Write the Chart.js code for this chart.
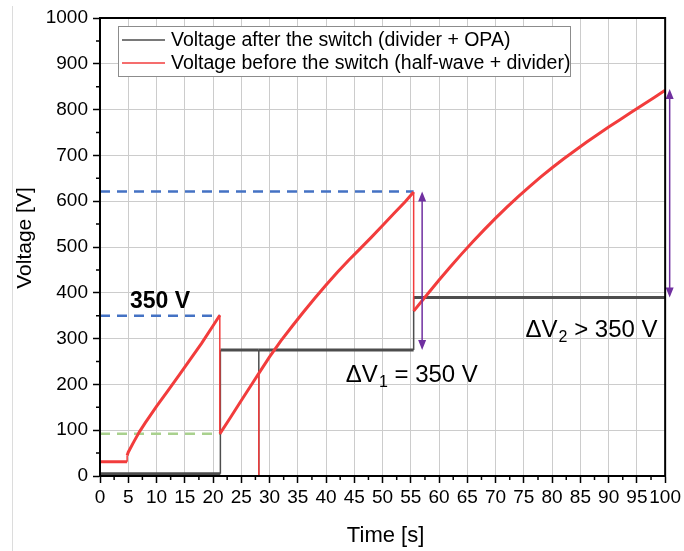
<!DOCTYPE html>
<html>
<head>
<meta charset="utf-8">
<script src="https://cdn.jsdelivr.net/npm/chart.js@4.4.1/dist/chart.umd.min.js"></script>
<style>
  html, body { margin: 0; padding: 0; background: #fff; }
  #wrap { width: 684px; height: 551px; position: relative; }
  #edge { position: absolute; left: 12px; top: 6px; bottom: 0; border-left: 1px solid #dcdcdc; }
</style>
</head>
<body>
<div id="wrap"><canvas id="chart" width="684" height="551"></canvas><div id="edge"></div></div>
<script>
// black trace: voltage after the switch
const afterTime = [0, 21.3, 21.3, 28.1, 28.1, 28.1, 55.5, 55.5, 100];
const afterVolt = [5, 5, 275, 275, 0, 275, 275, 390, 390];

// red trace: voltage before the switch
const beforeTime = [0, 4.8, 4.8, 5, 6, 7, 8, 10, 12, 14, 16, 18, 20, 21.2,
  21.2, 23, 25, 27, 28.1, 28.1, 28.1, 30, 32, 34, 36, 38, 40, 42, 44, 46, 48, 50, 52, 54, 55.5,
  55.5, 58, 60, 62, 64, 66, 68, 70, 72, 74, 76, 78, 80, 82, 84, 86, 88, 90, 92, 94, 96, 98, 100];
const beforeVolt = [31, 31, 45, 52, 75, 97, 116, 152, 186, 220, 255, 290, 328, 351,
  92, 126, 165, 203, 224, 0, 224, 260, 295, 327, 358, 388, 417, 445, 471, 496, 521, 547, 573, 599, 620,
  360, 398, 428, 457, 485, 512, 538, 563, 587, 610, 632, 653, 673, 692, 710, 728, 745, 762, 778, 794, 810, 826, 842];

const seriesLabels = ["Voltage after the switch (divider + OPA)", "Voltage before the switch (half-wave + divider)"];
const axisTitles = ["Time [s]", "Voltage [V]"];

// dashed reference levels
const refLevel = [350, 621, 92];
const refEnd = [21.2, 55.5, 21.3];

// double arrows (delta V)
const arrowTime = [57, 100.8];
const arrowFrom = [275, 390];
const arrowTo = [621, 845];

// text notes: main + subscript + rest, at (time, baseline voltage)
const noteMain = ["350 V", "ΔV", "ΔV"];
const noteSub = ["", "1", "2"];
const noteRest = ["", " = 350 V", " > 350 V"];
const noteTime = [5.3, 43.5, 75.3];
const noteVolt = [366, 206, 304];

const xTicks = [0, 100, 5];
const yTicks = [0, 1000, 100];

const FONT = "'Liberation Sans', Arial, sans-serif";

function pts(xs, ys) { return xs.map((x, i) => ({ x: x, y: ys[i] })); }
const thin = ctx => ctx.p0.parsed.x === ctx.p1.parsed.x ? 1.5 : 3;

const refColors = ["#4472c4", "#4472c4", "#a9d18e"];
const refSets = refLevel.map((v, i) => ({
  label: "ref" + i,
  data: pts([0, refEnd[i]], [v, v]),
  borderColor: refColors[i],
  borderWidth: 2.5,
  borderDash: [10, 7],
  pointRadius: 0
}));

const framePlugin = {
  id: "frame",
  afterDraw(chart) {
    const { ctx, chartArea: a, scales } = chart;
    ctx.save();
    ctx.strokeStyle = "#000";
    ctx.lineWidth = 2;
    ctx.strokeRect(a.left, a.top, a.right - a.left, a.bottom - a.top);
    // minor ticks
    ctx.lineWidth = 1.5;
    ctx.beginPath();
    for (let t = xTicks[0] + xTicks[2] / 2; t < xTicks[1]; t += xTicks[2]) {
      const px = scales.x.getPixelForValue(t);
      ctx.moveTo(px, a.bottom);
      ctx.lineTo(px, a.bottom + 4);
    }
    for (let v = yTicks[0] + yTicks[2] / 2; v < yTicks[1]; v += yTicks[2]) {
      const py = scales.y.getPixelForValue(v);
      ctx.moveTo(a.left, py);
      ctx.lineTo(a.left - 4, py);
    }
    ctx.stroke();

    // axis titles
    ctx.fillStyle = "#000";
    ctx.font = "22px " + FONT;
    ctx.textAlign = "center";
    ctx.textBaseline = "alphabetic";
    ctx.fillText(axisTitles[0], (a.left + a.right) / 2 + 3, 542);
    ctx.save();
    ctx.translate(31, (a.top + a.bottom) / 2 - 9);
    ctx.rotate(-Math.PI / 2);
    ctx.font = "21px " + FONT;
    ctx.fillText(axisTitles[1], 0, 0);
    ctx.restore();

    // legend box
    const x0 = a.left + 18, y0 = a.top + 8, w = 452, h = 50;
    ctx.fillStyle = "#fff";
    ctx.fillRect(x0, y0, w, h);
    ctx.strokeStyle = "#8c8c8c";
    ctx.lineWidth = 1;
    ctx.strokeRect(x0 + 0.5, y0 + 0.5, w, h);
    const colors = ["#4d4d4d", "#f23c3c"];
    ctx.font = "19.5px " + FONT;
    ctx.textBaseline = "middle";
    ctx.textAlign = "left";
    seriesLabels.forEach((lab, i) => {
      const yy = y0 + 14 + i * 23;
      ctx.strokeStyle = colors[i];
      ctx.lineWidth = 1.5;
      ctx.beginPath();
      ctx.moveTo(x0 + 4, yy);
      ctx.lineTo(x0 + 47, yy);
      ctx.stroke();
      ctx.fillStyle = "#000";
      ctx.fillText(lab, x0 + 53, yy + 1);
    });
    ctx.restore();
  },
  afterDatasetsDraw(chart) {
    const { ctx, scales } = chart;
    ctx.save();
    // arrows
    ctx.strokeStyle = "#7030a0";
    ctx.fillStyle = "#7030a0";
    ctx.lineWidth = 1.5;
    arrowTime.forEach((t, i) => {
      const px = scales.x.getPixelForValue(t);
      const p1 = scales.y.getPixelForValue(arrowFrom[i]);
      const p2 = scales.y.getPixelForValue(arrowTo[i]);
      ctx.beginPath();
      ctx.moveTo(px, p1 - 4);
      ctx.lineTo(px, p2 + 4);
      ctx.stroke();
      [[p2, 1], [p1, -1]].forEach(([py, d]) => {
        ctx.beginPath();
        ctx.moveTo(px, py);
        ctx.lineTo(px - 4, py + d * 10);
        ctx.lineTo(px + 4, py + d * 10);
        ctx.closePath();
        ctx.fill();
      });
    });
    // notes
    ctx.fillStyle = "#000";
    ctx.textAlign = "left";
    ctx.textBaseline = "alphabetic";
    noteMain.forEach((m, i) => {
      let px = scales.x.getPixelForValue(noteTime[i]);
      const py = scales.y.getPixelForValue(noteVolt[i]);
      ctx.font = (i === 0 ? "bold 23px " : "24px ") + FONT;
      ctx.fillText(m, px, py);
      px += ctx.measureText(m).width;
      if (noteSub[i]) {
        ctx.font = "16px " + FONT;
        ctx.fillText(noteSub[i], px + 1, py + 5);
        px += ctx.measureText(noteSub[i]).width + 1;
        ctx.font = "24px " + FONT;
        ctx.fillText(noteRest[i], px, py);
      }
    });
    ctx.restore();
  }
};

new Chart(document.getElementById("chart"), {
  type: "line",
  data: {
    datasets: [
      {
        label: seriesLabels[1],
        data: pts(beforeTime, beforeVolt),
        borderColor: "#f23c3c",
        borderWidth: 3,
        pointRadius: 0,
        segment: { borderWidth: thin }
      },
      {
        label: seriesLabels[0],
        data: pts(afterTime, afterVolt),
        borderColor: "#4d4d4d",
        borderWidth: 3,
        pointRadius: 0,
        segment: { borderWidth: thin }
      },
      ...refSets
    ]
  },
  options: {
    responsive: false,
    animation: false,
    layout: { padding: { top: 18, right: 16, left: 0, bottom: 0 } },
    plugins: { legend: { display: false }, tooltip: { enabled: false } },
    scales: {
      x: {
        type: "linear",
        min: xTicks[0], max: xTicks[1],
        ticks: { stepSize: xTicks[2], autoSkip: false, maxRotation: 0, minRotation: 0,
          color: "#000", padding: 3, font: { size: 19, family: FONT } },
        grid: { color: "#cccccc", tickColor: "#000", tickLength: 7, tickWidth: 1.5 },
        border: { color: "#000", width: 2 },
        afterFit: s => { s.height = 75; }
      },
      y: {
        min: yTicks[0], max: yTicks[1],
        ticks: { stepSize: yTicks[2], color: "#000", padding: 5,
          font: { size: 19, family: FONT }, callback: v => String(v) },
        grid: { color: "#cccccc", tickColor: "#000", tickLength: 7, tickWidth: 1.5 },
        border: { color: "#000", width: 2 },
        afterFit: s => { s.width = 100; }
      }
    }
  },
  plugins: [framePlugin]
});
</script>
</body>
</html>
